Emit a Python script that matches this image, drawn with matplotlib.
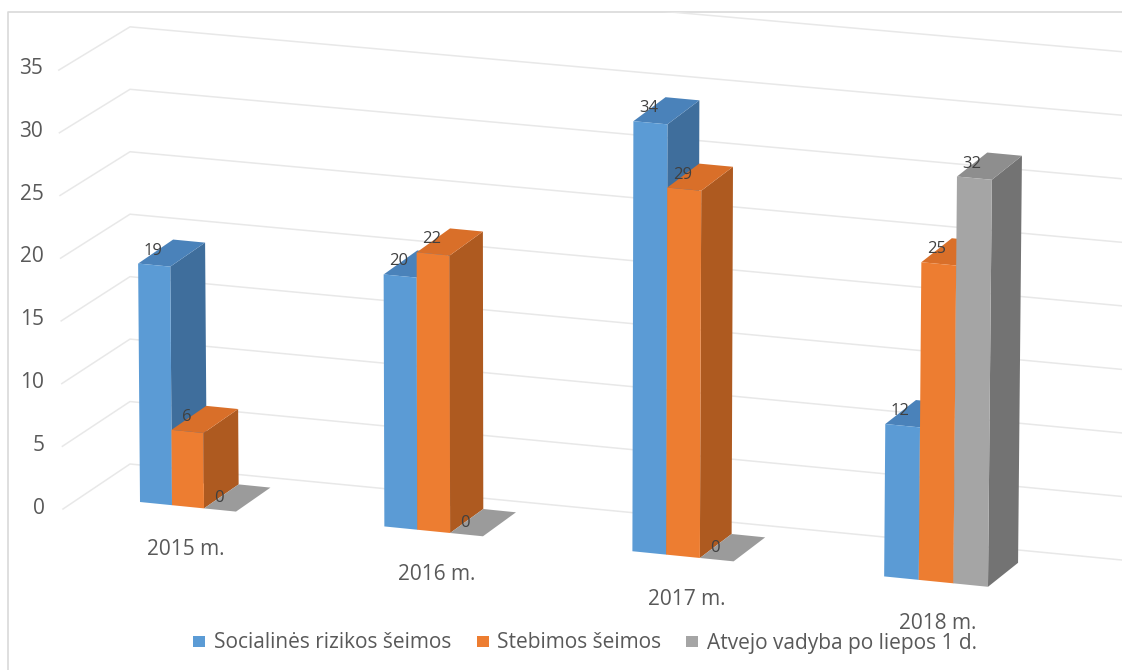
import matplotlib
matplotlib.use('Agg')
import matplotlib.pyplot as plt
from matplotlib.patches import Rectangle

plt.rcParams['font.family'] = ['Open Sans', 'DejaVu Sans']

# data ------------------------------------------------------------
categories = ['2015 m.', '2016 m.', '2017 m.', '2018 m.']
socialines = [19, 20, 34, 12]
stebimos = [6, 22, 29, 25]
atvejo = [0, 0, 0, 32]
series_names = ['Socialinės rizikos šeimos', 'Stebimos šeimos', 'Atvejo vadyba po liepos 1 d.']
y_ticks = [0, 5, 10, 15, 20, 25, 30, 35]
grid_values = [0, 5, 10, 15, 20, 25, 30, 35, 40]

# front, side, top
blue = ['#5B9BD5', '#3F6E9C', '#4A82BA']
orange = ['#ED7D31', '#AE5A20', '#D96F29']
gray = ['#A5A5A5', '#737373', '#8E8E8E']
text_col = '#595959'
grid_col = '#E8E8E8'

W, H = 1122, 670
fig = plt.figure(figsize=(W / 100, H / 100), dpi=100)
ax = fig.add_axes([0, 0, 1, 1])
ax.set_xlim(0, W)
ax.set_ylim(H, 0)
ax.axis('off')


# fake 3d: data -> picture position
def project(x_floor, v, d=0.0):
    # x_floor is the bar's foot on the floor, v the value, d the depth 0..1
    scale = 12.55 + 0.0002 * (x_floor - 140)
    lean = 0.00026 * (x_floor - 520) * v
    dx = 35 - 0.0058 * (x_floor - 140)
    x = x_floor + lean + dx * d
    y = 502 + 0.1 * (x_floor - 140) - scale * v - 24 * d
    return x, y


def wall_y(x, v):
    y0 = 464 + 0.0968 * (x - 130)
    return y0 - (12.49 + 0.00022 * (x - 130)) * v


# frame
ax.plot([8, 8, W], [H, 12, 12], color='#D9D9D9', lw=1.2, zorder=1)

# grid lines, left wall and back wall
clip = Rectangle((8, 12), W - 8, H - 12, transform=ax.transData, fill=False, ec='none')
ax.add_patch(clip)
for v in grid_values:
    xs = [63 - v * 0.12, 130, W]
    ys = [509 - v * 12.54, wall_y(130, v), wall_y(W, v)]
    line, = ax.plot(xs, ys, color=grid_col, lw=1.1, zorder=2)
    line.set_clip_path(clip)

for v in y_ticks:
    ax.text(45 - v * 0.06, 508 - v * 12.55, str(v), ha='right', va='center',
            fontsize=15, color=text_col)


def draw_bar(x_floor, v, width, cols, z):
    if v == 0:
        # zero height bar leaves only a flat patch on the floor
        pts = [project(x_floor, 0, 0), project(x_floor + width, 0, 0),
               project(x_floor + width, 0, 1), project(x_floor, 0, 1)]
        ax.fill(*zip(*pts), color='#9B9B9B', lw=0, zorder=z)
        return
    side = [project(x_floor + width, 0, 0), project(x_floor + width, v, 0),
            project(x_floor + width, v, 1), project(x_floor + width, 0, 1)]
    top = [project(x_floor, v, 0), project(x_floor + width, v, 0),
           project(x_floor + width, v, 1), project(x_floor, v, 1)]
    front = [project(x_floor, 0, 0), project(x_floor + width, 0, 0),
             project(x_floor + width, v, 0), project(x_floor, v, 0)]
    ax.fill(*zip(*side), color=cols[1], lw=0, zorder=z)
    ax.fill(*zip(*top), color=cols[2], lw=0, zorder=z)
    ax.fill(*zip(*front), color=cols[0], lw=0, zorder=z)


# bars --------------------------------------------------------------
z = 3
labels = []
for i, cat in enumerate(categories):
    # groups and bars get a bit wider to the right (perspective)
    x_group = 140 + 242.5 * i + 1.85 * i * i
    bar_w = 32 + 0.87 * i
    for j, (vals, cols) in enumerate(zip([socialines, stebimos, atvejo], [blue, orange, gray])):
        x_bar = x_group + j * bar_w
        v = vals[i]
        draw_bar(x_bar, v, bar_w, cols, z)
        z += 1
        px, py = project(x_bar, v)
        labels.append((px + 15, py - (10 if v == 0 else 13), str(v)))
    ax.text(186 + 250.5 * i, 549.5 + 24.8 * i, cat, ha='center', va='center',
            fontsize=15, color=text_col, zorder=50)

# value labels go on top of everything
for lx, ly, s in labels:
    ax.text(lx, ly, s, ha='center', va='center', fontsize=12, color='#404040', zorder=60)

# legend
marker_x = [193, 477, 686]
text_x = [214, 497, 707]
for mx, tx, name, cols in zip(marker_x, text_x, series_names, [blue, orange, gray]):
    ax.add_patch(Rectangle((mx, 636), 12, 11, color=cols[0], lw=0, zorder=70))
    ax.text(tx, 643, name, ha='left', va='center', fontsize=15, color=text_col, zorder=70)

fig.savefig('out.png', dpi=100)
